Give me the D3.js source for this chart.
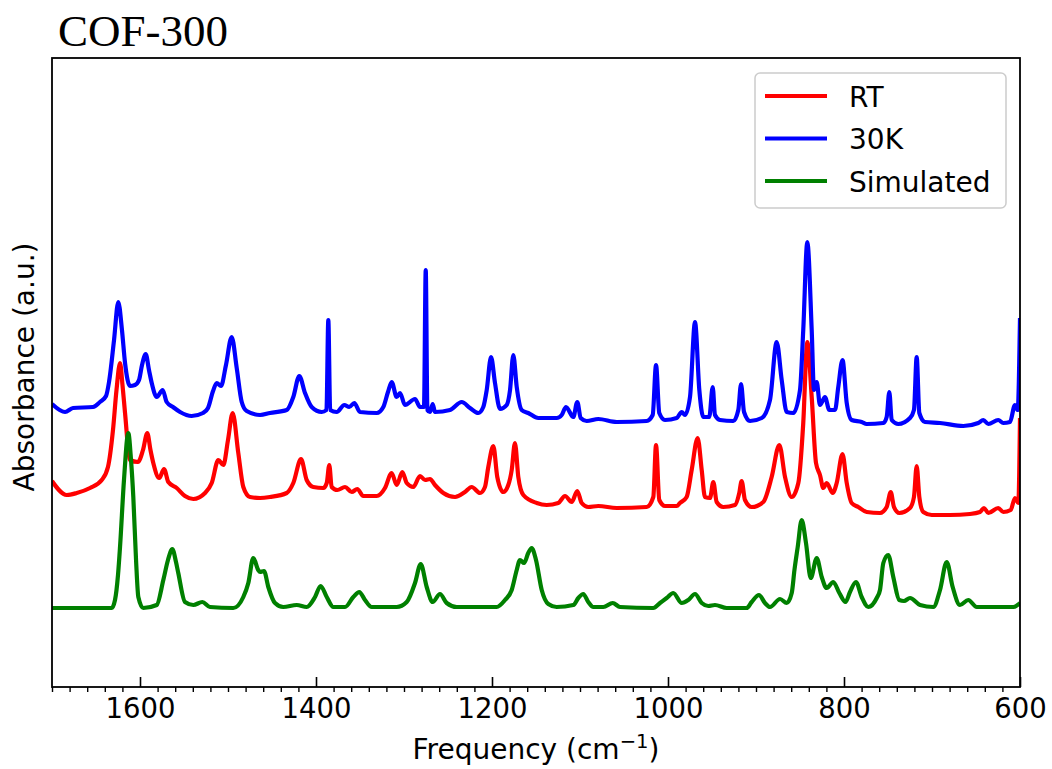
<!DOCTYPE html>
<html>
<head>
<meta charset="utf-8">
<script src="https://cdn.jsdelivr.net/npm/d3@7"></script>
<style>
  html, body { margin: 0; padding: 0; background: #ffffff; }
  svg { display: block; }
  text { font-family: "DejaVu Sans", sans-serif; fill: #000; }
</style>
</head>
<body>
<svg id="chart" width="1052" height="769"></svg>
<script>
// IR absorbance spectra of COF-300: [wavenumber (cm^-1), absorbance (a.u., stacked offset)]
const rtSpectrum = [
  [1700,2.06],[1683.3,1.92],[1671.9,1.94],[1656.8,1.99],[1643.5,2.07],[1636.4,2.20],[1630.7,2.57],[1626.7,2.97],
  [1622.7,3.24],[1619.9,3.02],[1617.0,2.74],[1611.4,2.27],[1602.3,2.25],[1596.6,2.37],[1591.7,2.54],[1588.1,2.37],
  [1584.9,2.24],[1578.1,2.09],[1572.7,2.18],[1567.8,2.05],[1558.3,1.99],[1548.9,1.91],[1539.4,1.88],[1526.1,1.94],
  [1518.5,2.04],[1511.0,2.27],[1505.3,2.22],[1500.0,2.47],[1494.7,2.74],[1488.3,2.34],[1482.6,2.00],[1475.0,1.90],
  [1463.6,1.89],[1452.3,1.90],[1433.3,1.94],[1425.8,2.04],[1417.0,2.28],[1410.6,2.07],[1403.1,2.00],[1391.7,1.99],
  [1387.8,2.04],[1384.9,2.22],[1382.2,2.00],[1375.8,1.97],[1367.0,2.00],[1359.4,1.95],[1353.1,1.98],[1346.3,1.91],
  [1331.0,1.91],[1321.6,1.99],[1314.0,2.14],[1308.3,2.02],[1301.9,2.15],[1296.9,2.04],[1289.4,2.00],[1281.8,2.11],
  [1276.1,2.07],[1270.5,2.08],[1264.8,2.02],[1255.3,1.94],[1242.0,1.90],[1230.7,1.95],[1223.1,2.00],[1213.6,1.94],
  [1208.0,2.00],[1204.2,2.20],[1198.5,2.41],[1194.0,2.10],[1187.2,1.95],[1181.5,2.02],[1177.6,2.17],[1173.9,2.44],
  [1170.1,2.10],[1164.4,1.92],[1149.2,1.84],[1137.8,1.82],[1124.7,1.84],[1117.0,1.91],[1109.4,1.85],[1103.1,1.96],
  [1098.1,1.84],[1090.6,1.80],[1079.2,1.81],[1058.3,1.79],[1024.2,1.80],[1016.7,1.90],[1013.6,2.42],[1009.9,1.87],
  [1003.4,1.81],[990.1,1.81],[986.4,1.84],[978.8,1.90],[973.1,2.17],[966.3,2.49],[961.7,2.17],[958.0,1.90],
  [952.3,1.89],[948.5,2.05],[944.7,1.85],[937.2,1.80],[923.9,1.82],[919.0,1.94],[916.3,2.06],[912.5,1.87],
  [904.9,1.80],[891.7,1.85],[882.2,2.10],[873.5,2.42],[867.0,2.10],[859.4,1.90],[851.9,2.04],[846.3,2.64],
  [841.7,3.45],[836.7,2.90],[831.8,2.24],[827.3,2.12],[823.5,1.99],[819.7,2.04],[812.8,1.94],[808.3,2.04],
  [801.7,2.33],[796.9,2.04],[791.3,1.84],[783.8,1.80],[774.2,1.75],[759.1,1.74],[751.5,1.80],[746.9,1.95],
  [743.2,1.80],[737.2,1.74],[725.0,1.79],[720.5,1.90],[717.4,2.21],[714.4,1.90],[709.9,1.75],[700.3,1.72],
  [679.5,1.72],[656.8,1.73],[645.5,1.75],[640.9,1.79],[636.0,1.74],[624.7,1.79],[619.0,1.75],[610.6,1.77],
  [605.7,1.89],[601.9,1.84],[600,2.69]
];

const k30Spectrum = [
  [1700,2.83],[1685.2,2.75],[1676.1,2.79],[1653.4,2.80],[1645.5,2.85],[1638.6,2.91],[1635.2,3.05],[1629.5,3.47],
  [1624.7,3.85],[1620.5,3.57],[1617.0,3.24],[1611.4,3.01],[1605.7,3.02],[1601.1,3.07],[1597.7,3.22],[1593.5,3.33],
  [1589.8,3.17],[1586.4,3.03],[1581.0,2.90],[1574.2,2.97],[1569.7,2.85],[1562.5,2.80],[1554.5,2.75],[1541.3,2.71],
  [1528.4,2.74],[1522.7,2.79],[1517.0,2.96],[1512.8,3.04],[1508.0,3.01],[1502.3,3.22],[1495.8,3.50],[1490.1,3.19],
  [1484.4,2.85],[1478.8,2.76],[1463.6,2.72],[1452.3,2.74],[1433.3,2.77],[1425.8,2.90],[1419.0,3.11],[1412.5,2.94],
  [1404.9,2.80],[1393.5,2.75],[1388.1,2.77],[1386.0,3.67],[1383.9,2.77],[1376.5,2.75],[1367.8,2.82],[1362.2,2.80],
  [1356.5,2.84],[1350.0,2.75],[1331.0,2.74],[1323.5,2.80],[1318.2,2.95],[1314.0,3.05],[1308.3,2.90],[1304.5,2.94],
  [1298.9,2.82],[1287.5,2.88],[1281.8,2.80],[1277.3,2.80],[1275.3,4.17],[1273.4,2.77],[1270.5,2.75],[1267.4,2.83],
  [1264.8,2.75],[1247.7,2.77],[1234.4,2.85],[1225.0,2.79],[1215.6,2.74],[1209.9,2.80],[1206.0,2.97],[1201.1,3.30],
  [1196.6,3.04],[1190.9,2.78],[1183.3,2.82],[1179.5,2.97],[1175.8,3.32],[1171.9,3.00],[1166.3,2.77],[1158.8,2.74],
  [1147.4,2.69],[1126.5,2.69],[1120.8,2.72],[1115.9,2.80],[1107.6,2.70],[1103.1,2.85],[1099.2,2.69],[1092.4,2.66],
  [1079.2,2.68],[1058.3,2.65],[1024.2,2.66],[1017.4,2.72],[1013.6,3.22],[1009.9,2.74],[1003.4,2.67],[990.1,2.69],
  [984.4,2.75],[980.7,2.72],[975.0,2.90],[969.3,3.65],[964.4,2.97],[959.9,2.70],[953.1,2.70],[949.2,3.00],
  [946.6,2.72],[940.9,2.67],[925.8,2.66],[920.1,2.77],[917.0,3.03],[913.6,2.75],[906.8,2.66],[893.5,2.69],
  [884.1,2.87],[876.5,3.45],[870.8,3.07],[865.1,2.75],[857.6,2.74],[850.0,2.97],[846.3,3.57],[841.7,4.45],
  [836.7,3.57],[834.1,2.97],[831.0,3.05],[827.3,2.82],[821.6,2.90],[816.7,2.77],[810.2,2.77],[806.5,3.00],
  [801.7,3.27],[796.9,2.84],[791.3,2.67],[779.9,2.65],[774.2,2.63],[755.3,2.64],[751.5,2.70],[748.5,2.95],
  [745.8,2.67],[738.3,2.63],[725.0,2.69],[720.5,2.77],[717.4,3.30],[714.4,2.74],[708.0,2.65],[690.9,2.64],
  [664.4,2.61],[647.4,2.64],[641.7,2.67],[636.0,2.63],[624.7,2.67],[619.0,2.64],[611.4,2.65],[605.7,2.82],
  [602.6,2.77],[600,3.69]
];

const simSpectrum = [
  [1700,0.79],[1632.2,0.79],[1628.4,0.87],[1625.0,1.12],[1622.7,1.40],[1618.2,2.07],[1613.3,2.54],[1610.2,2.27],
  [1607.6,1.90],[1604.5,1.27],[1601.9,0.90],[1596.3,0.79],[1581.0,0.82],[1573.5,1.07],[1568.2,1.27],[1563.3,1.38],
  [1559.1,1.25],[1556.5,1.14],[1548.9,0.85],[1539.4,0.82],[1529.2,0.85],[1520.5,0.80],[1494.0,0.79],[1482.6,0.90],
  [1476.9,1.04],[1471.3,1.29],[1465.6,1.17],[1463.6,1.15],[1459.1,1.16],[1454.2,1.00],[1446.6,0.84],[1437.2,0.80],
  [1421.9,0.82],[1410.6,0.80],[1401.1,0.90],[1394.7,1.01],[1387.8,0.90],[1380.3,0.80],[1367.0,0.80],[1357.6,0.90],
  [1350.8,0.95],[1344.3,0.87],[1336.7,0.80],[1308.3,0.80],[1296.9,0.85],[1287.5,1.04],[1281.0,1.23],[1274.2,1.00],
  [1267.4,0.85],[1259.1,0.93],[1251.5,0.84],[1240.1,0.80],[1194.7,0.80],[1185.2,0.87],[1177.6,0.97],[1171.9,1.17],
  [1168.2,1.27],[1163.6,1.24],[1158.8,1.34],[1154.9,1.39],[1150.0,1.27],[1143.5,0.97],[1136.0,0.83],[1126.5,0.80],
  [1107.6,0.82],[1101.9,0.89],[1096.3,0.93],[1090.6,0.85],[1084.9,0.80],[1073.5,0.80],[1062.8,0.84],[1054.5,0.80],
  [1016.7,0.79],[1009.1,0.84],[1001.5,0.89],[994.0,0.94],[984.4,0.84],[976.9,0.87],[969.3,0.93],[961.7,0.84],
  [954.2,0.81],[946.6,0.82],[933.3,0.79],[910.6,0.79],[904.9,0.85],[896.6,0.92],[889.8,0.84],[884.1,0.80],
  [872.7,0.88],[865.1,0.84],[859.4,0.94],[856.3,1.17],[852.6,1.40],[848.1,1.67],[843.2,1.44],[837.8,1.09],
  [831.0,1.29],[825.3,1.10],[819.7,0.99],[812.2,1.05],[805.3,0.94],[798.3,0.85],[793.2,0.95],[786.4,1.05],
  [779.9,0.90],[772.4,0.80],[762.8,0.89],[759.1,0.97],[755.3,1.24],[749.7,1.32],[744.0,1.10],[737.2,0.87],
  [731.8,0.86],[725.0,0.89],[713.6,0.82],[698.5,0.80],[690.9,0.97],[683.3,1.25],[676.5,1.00],[668.2,0.82],
  [658.8,0.87],[649.2,0.80],[630.3,0.80],[607.6,0.80],[600,0.84]
];

const seriesNames = ["RT", "30K", "Simulated"];
const seriesData = [rtSpectrum, k30Spectrum, simSpectrum];
const seriesColors = ["#ff0000", "#0000ff", "#008000"];

const xDomain = [1700, 600];
const yDomain = [0, 6.29];
const xMajorTicks = [1600, 1400, 1200, 1000, 800, 600];
const xMinorStep = 20;

const titleText = "COF-300";
const xLabel = "Frequency (cm";
const xLabelSup = "\u22121";
const yLabel = "Absorbance (a.u.)";

// ---- layout ----
const W = 1052, H = 769;
const plot = { left: 52, right: 1020, top: 58, bottom: 687 };

const svg = d3.select("#chart");

const x = d3.scaleLinear().domain(xDomain).range([plot.left, plot.right]);
const y = d3.scaleLinear().domain(yDomain).range([plot.bottom, plot.top]);

svg.append("defs").append("clipPath").attr("id", "plot-clip")
  .append("rect")
  .attr("x", plot.left).attr("y", plot.top)
  .attr("width", plot.right - plot.left).attr("height", plot.bottom - plot.top);

// spectra
const line = d3.line()
  .x(d => x(d[0]))
  .y(d => y(d[1]))
  .curve(d3.curveMonotoneX);

const traces = svg.append("g").attr("clip-path", "url(#plot-clip)");
seriesData.forEach((data, i) => {
  const sorted = data.slice().sort((a, b) => b[0] - a[0]);
  traces.append("path")
    .datum(sorted)
    .attr("d", line)
    .attr("fill", "none")
    .attr("stroke", seriesColors[i])
    .attr("stroke-width", 4.2)
    .attr("stroke-linejoin", "round")
    .attr("stroke-linecap", "butt");
});

// x axis: major ticks point inward, minor ticks point outward
const minorTicks = d3.range(xDomain[0], xDomain[1] - 1, -xMinorStep)
  .filter(v => !xMajorTicks.includes(v));

const axisG = svg.append("g").attr("transform", `translate(0,${plot.bottom})`);
const majorAxis = d3.axisBottom(x).tickValues(xMajorTicks).tickSize(-10).tickPadding(0).tickFormat(d3.format("d"));
axisG.call(majorAxis);
axisG.select(".domain").remove();
axisG.selectAll(".tick line").attr("stroke", "#000").attr("stroke-width", 1.6);
axisG.selectAll(".tick text")
  .attr("y", 31)
  .attr("dy", 0)
  .style("font-family", "'DejaVu Sans', sans-serif")
  .style("font-size", "27.5px")
  .attr("fill", "#000");

const minorG = svg.append("g").attr("transform", `translate(0,${plot.bottom})`);
minorG.call(d3.axisBottom(x).tickValues(minorTicks).tickSize(5).tickFormat(""));
minorG.select(".domain").remove();
minorG.selectAll(".tick line").attr("stroke", "#000").attr("stroke-width", 1.4);

// frame
svg.append("rect")
  .attr("x", plot.left).attr("y", plot.top)
  .attr("width", plot.right - plot.left).attr("height", plot.bottom - plot.top)
  .attr("fill", "none").attr("stroke", "#000").attr("stroke-width", 1.8);

// axis labels
const xl = svg.append("text")
  .attr("x", (plot.left + plot.right) / 2)
  .attr("y", 759)
  .attr("text-anchor", "middle")
  .style("font-size", "28px");
xl.append("tspan").text(xLabel);
xl.append("tspan").attr("dy", -11).style("font-size", "19.6px").text(xLabelSup);
xl.append("tspan").attr("dy", 11).text(")");

svg.append("text")
  .attr("transform", `translate(34,367) rotate(-90)`)
  .attr("text-anchor", "middle")
  .style("font-size", "28px")
  .text(yLabel);

// title
svg.append("text")
  .attr("x", 58).attr("y", 46)
  .style("font-family", "'Liberation Serif', 'Times New Roman', serif")
  .style("font-size", "45px")
  .text(titleText);

// legend
const legend = svg.append("g");
legend.append("rect")
  .attr("x", 755).attr("y", 73)
  .attr("width", 251).attr("height", 135)
  .attr("rx", 5).attr("ry", 5)
  .attr("fill", "#ffffff").attr("fill-opacity", 0.8)
  .attr("stroke", "#cccccc").attr("stroke-width", 1.5);

const legendRowY = d3.scalePoint().domain(seriesNames).range([96, 181]);
seriesNames.forEach((name, i) => {
  const ly = legendRowY(name);
  legend.append("line")
    .attr("x1", 765).attr("x2", 827)
    .attr("y1", ly).attr("y2", ly)
    .attr("stroke", seriesColors[i]).attr("stroke-width", 4.2);
  legend.append("text")
    .attr("x", 849).attr("y", ly + 10.7)
    .style("font-size", "28px")
    .text(name);
});
</script>
</body>
</html>
